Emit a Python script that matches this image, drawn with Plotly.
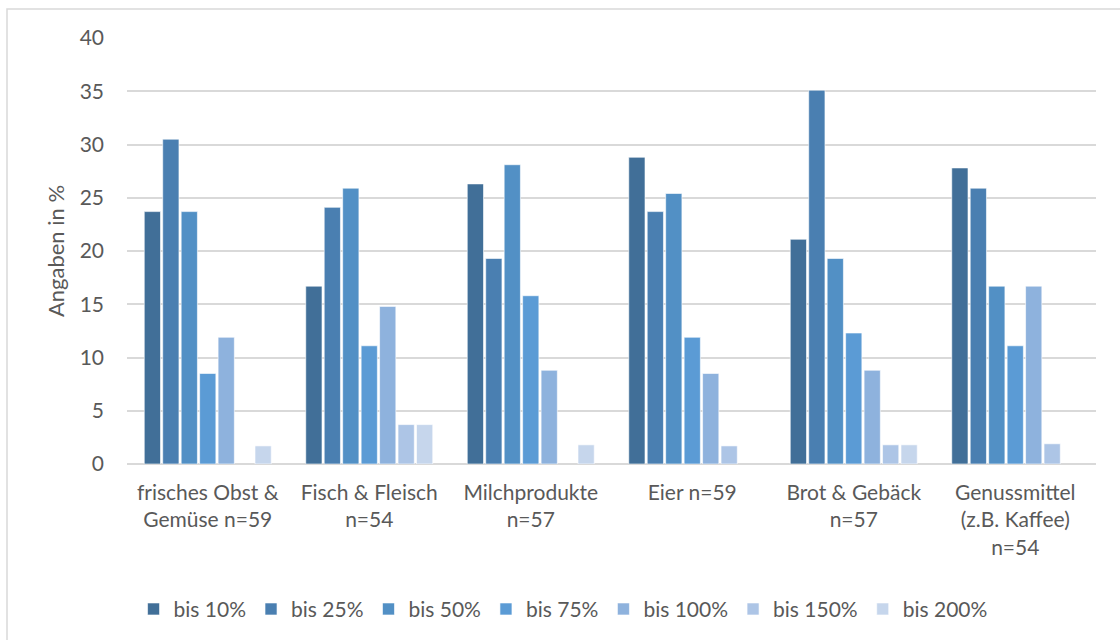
import plotly.graph_objects as go

categories = [
    "frisches Obst &<br>Gemüse n=59",
    "Fisch & Fleisch<br>n=54",
    "Milchprodukte<br>n=57",
    "Eier n=59",
    "Brot & Gebäck<br>n=57",
    "Genussmittel<br>(z.B. Kaffee)<br>n=54",
]

series_names = ["bis 10%", "bis 25%", "bis 50%", "bis 75%", "bis 100%", "bis 150%", "bis 200%"]

bis_10 = [23.7, 16.7, 26.3, 28.8, 21.1, 27.8]
bis_25 = [30.5, 24.1, 19.3, 23.7, 35.1, 25.9]
bis_50 = [23.7, 25.9, 28.1, 25.4, 19.3, 16.7]
bis_75 = [8.5, 11.1, 15.8, 11.9, 12.3, 11.1]
bis_100 = [11.9, 14.8, 8.8, 8.5, 8.8, 16.7]
bis_150 = [None, 3.7, None, 1.7, 1.8, 1.9]
bis_200 = [1.7, 3.7, 1.8, None, 1.8, None]

series_values = [bis_10, bis_25, bis_50, bis_75, bis_100, bis_150, bis_200]
colors = ["#416F98", "#4A7FB1", "#5290C5", "#5B9BD5", "#8EB2DD", "#ADC5E6", "#C6D6EC"]

y_ticks = [0, 5, 10, 15, 20, 25, 30, 35, 40]

FONT = "Lato, Calibri, Carlito, sans-serif"
TEXT = "#595959"
FS = 21

fig = go.Figure()
for name, vals, col in zip(series_names, series_values, colors):
    fig.add_trace(go.Bar(
        x=categories, y=vals, name=name,
        marker=dict(color=col, line=dict(color="rgba(255,255,255,0.6)", width=1)),
    ))

W, H = 1120, 640
ml, mr, mt, mb = 127, 24, 38, 175
pw, ph = W - ml - mr, H - mt - mb

# light chart border around the whole chart area
fig.add_shape(
    type="rect", xref="paper", yref="paper",
    x0=(7 - ml) / pw, x1=(W + 10 - ml) / pw,
    y0=(H - mb - (H + 10)) / ph, y1=(H - mb - 9) / ph,
    line=dict(color="#D9D9D9", width=1.5), fillcolor="rgba(0,0,0,0)", layer="below",
)

fig.update_layout(
    width=W, height=H,
    margin=dict(l=ml, r=mr, t=mt, b=mb),
    paper_bgcolor="white", plot_bgcolor="white",
    barmode="group", bargap=0.2, bargroupgap=0.12,
    font=dict(family=FONT, size=FS, color=TEXT),
    showlegend=True,
    legend=dict(
        orientation="h", x=0.45, xanchor="center", y=-0.29, yanchor="top",
        font=dict(family=FONT, size=FS, color=TEXT),
        traceorder="normal", itemwidth=30,
    ),
    xaxis=dict(
        showgrid=False, showline=False, ticks="", ticklabelstandoff=14,
        tickfont=dict(family=FONT, size=FS, color=TEXT),
    ),
    yaxis=dict(
        range=[0, 40], tickvals=y_ticks,
        showgrid=True, gridcolor="#D9D9D9", gridwidth=1.5,
        zeroline=True, zerolinecolor="#D9D9D9", zerolinewidth=1.5,
        showline=False, ticks="", ticklabelstandoff=22,
        tickfont=dict(family=FONT, size=FS, color=TEXT),
        title=dict(text="Angaben in %", font=dict(family=FONT, size=22, color=TEXT), standoff=8),
    ),
)

fig.write_html("out.html")
